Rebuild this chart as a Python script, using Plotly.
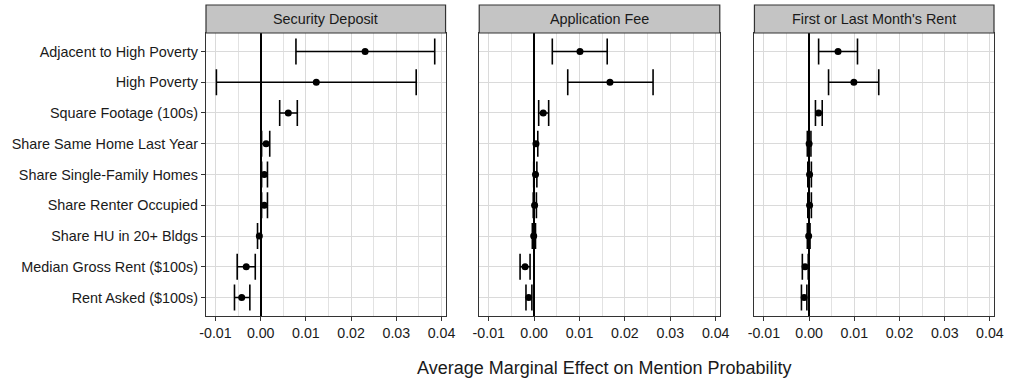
import plotly.graph_objects as go
from plotly.subplots import make_subplots

categories = [
    "Adjacent to High Poverty",
    "High Poverty",
    "Square Footage (100s)",
    "Share Same Home Last Year",
    "Share Single-Family Homes",
    "Share Renter Occupied",
    "Share HU in 20+ Bldgs",
    "Median Gross Rent ($100s)",
    "Rent Asked ($100s)",
]
panels = ["Security Deposit", "Application Fee", "First or Last Month's Rent"]

dep_est = [0.0231, 0.0123, 0.0061, 0.0012, 0.0008, 0.0008, -0.0003, -0.0032, -0.0042]
dep_lo = [0.0078, -0.0098, 0.0042, 0.0002, 0.0002, 0.0002, -0.0007, -0.0052, -0.0058]
dep_hi = [0.0385, 0.0344, 0.0081, 0.0020, 0.0015, 0.0015, 0.0001, -0.0012, -0.0024]

app_est = [0.0101, 0.0167, 0.0020, 0.0004, 0.0003, 0.0001, -0.0001, -0.0020, -0.0012]
app_lo = [0.0040, 0.0074, 0.0010, 0.0000, -0.0001, -0.0002, -0.0004, -0.0031, -0.0018]
app_hi = [0.0161, 0.0262, 0.0032, 0.0008, 0.0006, 0.0005, 0.0003, -0.0009, -0.0005]

rent_est = [0.0064, 0.0099, 0.0021, 0.0000, 0.0001, 0.0001, -0.0001, -0.0009, -0.0011]
rent_lo = [0.0021, 0.0043, 0.0014, -0.0004, -0.0003, -0.0003, -0.0004, -0.0015, -0.0017]
rent_hi = [0.0107, 0.0154, 0.0029, 0.0004, 0.0005, 0.0005, 0.0002, -0.0002, -0.0005]

x_ticks = [-0.01, 0.0, 0.01, 0.02, 0.03, 0.04]
x_ticklabels = ["-0.01", "0.00", "0.01", "0.02", "0.03", "0.04"]
x_title = "Average Marginal Effect on Mention Probability"

series = [(dep_est, dep_lo, dep_hi), (app_est, app_lo, app_hi), (rent_est, rent_lo, rent_hi)]

W, H = 1016, 382
ML, MR, MT, MB = 202, 18, 33, 66
pw = W - ML - MR
ph = H - MT - MB
px_domains = [(202, 444), (478, 721), (756, 998)]
domains = [((a - ML) / pw, (b - ML) / pw) for a, b in px_domains]

fig = make_subplots(rows=1, cols=3, shared_yaxes=True)
order = list(reversed(categories))
FONT = "Liberation Sans, Arial, sans-serif"
TXT = "#1a1a1a"

for i, (est, lo, hi) in enumerate(series):
    fig.add_trace(
        go.Scatter(
            x=est,
            y=categories,
            mode="markers",
            marker=dict(color="black", size=7),
            error_x=dict(
                type="data",
                symmetric=False,
                array=[h - e for h, e in zip(hi, est)],
                arrayminus=[e - l for e, l in zip(est, lo)],
                color="black",
                thickness=1.6,
                width=13,
            ),
            showlegend=False,
        ),
        row=1,
        col=i + 1,
    )

for i in range(3):
    xa = "xaxis" if i == 0 else f"xaxis{i+1}"
    ya = "yaxis" if i == 0 else f"yaxis{i+1}"
    fig.layout[xa].update(
        domain=domains[i],
        range=[-0.0121, 0.0409],
        tickvals=x_ticks,
        ticktext=x_ticklabels,
        showgrid=True,
        gridcolor="#DADADA",
        gridwidth=1,
        minor=dict(dtick=0.005, tick0=0, showgrid=True, gridcolor="#E2E2E2", gridwidth=0.9),
        zeroline=True,
        zerolinecolor="black",
        zerolinewidth=1.6,
        showline=True,
        linecolor="#333333",
        linewidth=1.2,
        mirror=True,
        ticks="outside",
        ticklen=4,
        tickcolor="#333333",
        tickfont=dict(family=FONT, size=14.2, color=TXT),
    )
    fig.layout[ya].update(
        type="category",
        categoryorder="array",
        categoryarray=order,
        range=[-0.6, 8.6],
        showgrid=True,
        gridcolor="#DADADA",
        gridwidth=1,
        zeroline=False,
        showline=True,
        linecolor="#333333",
        linewidth=1.2,
        mirror=True,
        ticks="outside" if i == 0 else "",
        ticklen=4,
        tickcolor="#333333",
        showticklabels=(i == 0),
        tickfont=dict(family=FONT, size=14.4, color=TXT),
    )
    x0, x1 = domains[i]
    fig.add_shape(
        type="rect", xref="paper", yref="paper",
        x0=x0, x1=x1, y0=1, y1=1 + 28 / ph,
        fillcolor="#C4C4C4", line=dict(color="#333333", width=1.2), layer="above",
    )
    fig.add_annotation(
        x=(x0 + x1) / 2, y=1 + 14 / ph, xref="paper", yref="paper",
        text=panels[i], showarrow=False, xanchor="center", yanchor="middle",
        font=dict(family=FONT, size=14.4, color=TXT),
    )

fig.add_annotation(
    x=(605 - ML) / pw, y=-(368 - (H - MB)) / ph, xref="paper", yref="paper",
    text=x_title, showarrow=False, xanchor="center", yanchor="middle",
    font=dict(family=FONT, size=18, color=TXT),
)

fig.update_layout(
    width=W, height=H,
    margin=dict(l=ML, r=MR, t=MT, b=MB),
    plot_bgcolor="white",
    paper_bgcolor="white",
    font=dict(family=FONT),
)

fig.write_html(
    "out.html",
    config={"displayModeBar": False},
    post_script="document.body.style.margin='0';document.body.style.overflow='hidden';",
)
